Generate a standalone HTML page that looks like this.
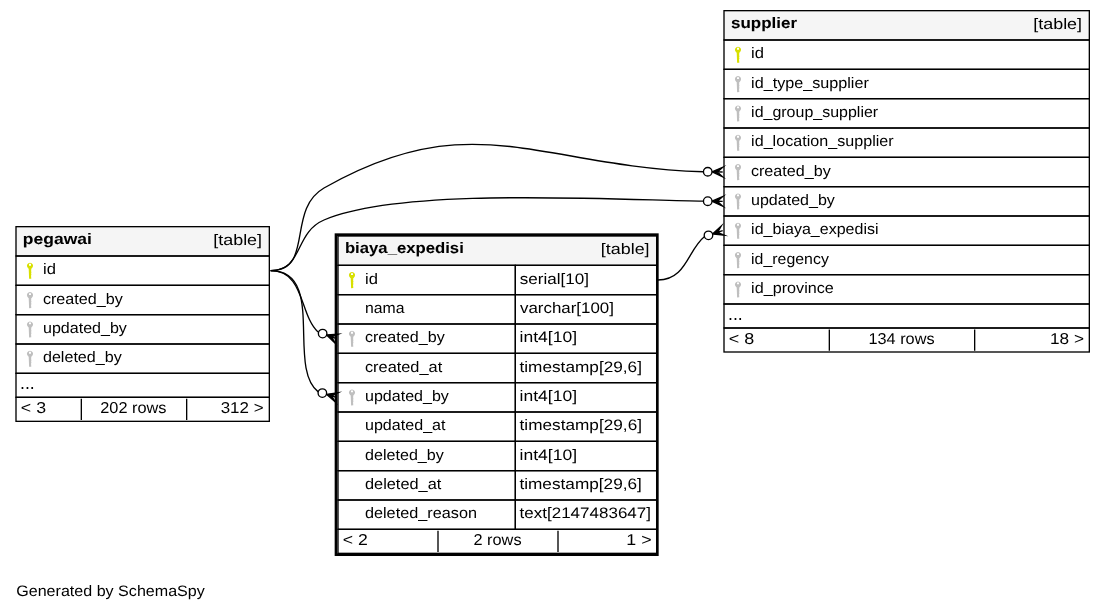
<!DOCTYPE html>
<html lang="en">
<head>
<meta charset="utf-8">
<title>biaya_expedisi - one degree relationships</title>
<style>
html,body{margin:0;padding:0;background:#ffffff;}
body{width:1105px;height:611px;overflow:hidden;}
svg{display:block;will-change:transform;}
svg text{font-family:"Liberation Sans",sans-serif;font-size:15.17px;fill:#000000;white-space:pre;}
svg text.b{font-weight:bold;stroke:#000000;stroke-width:0.06px;}
svg line,svg rect.o{stroke:#000000;fill:none;}
svg .e{fill:none;stroke:#000000;stroke-width:1.333;}
svg .dot{fill:#ffffff;stroke:#000000;stroke-width:1.333;}
svg .crow{fill:#000000;stroke:#000000;stroke-width:1.333;stroke-linejoin:miter;stroke-miterlimit:10;}
</style>
</head>
<body>
<svg width="1105" height="611" viewBox="0 0 1105 611">
<rect x="0" y="0" width="1105" height="611" fill="#ffffff"/>
<g id="pegawai">
<rect x="16" y="226.67" width="253.33" height="194.67" fill="#ffffff"/>
<rect x="16" y="226.67" width="253.33" height="29.33" fill="#f5f5f5"/>
<g fill="#d8e000">
<path fill-rule="evenodd" d="M30 262.72a3.05 3.05 0 1 1 -0.01 0zM29 263.87h2v1.8h-2z"/>
<path d="M28.65 267.77L31.35 267.77L31.15 271.37L31.45 272.17L31.1 273.37L31.4 274.57L31.05 275.77L31.3 278.67L29.1 278.87L28.9 273.77z"/>
</g>
<g fill="#bfbfbf">
<path fill-rule="evenodd" d="M30 292.05a3.05 3.05 0 1 1 -0.01 0zM29 293.2h2v1.8h-2z"/>
<path d="M28.65 297.1L31.35 297.1L31.15 300.7L31.45 301.5L31.1 302.7L31.4 303.9L31.05 305.1L31.3 308L29.1 308.2L28.9 303.1z"/>
</g>
<g fill="#bfbfbf">
<path fill-rule="evenodd" d="M30 321.38a3.05 3.05 0 1 1 -0.01 0zM29 322.53h2v1.8h-2z"/>
<path d="M28.65 326.43L31.35 326.43L31.15 330.03L31.45 330.83L31.1 332.03L31.4 333.23L31.05 334.43L31.3 337.33L29.1 337.53L28.9 332.43z"/>
</g>
<g fill="#bfbfbf">
<path fill-rule="evenodd" d="M30 350.72a3.05 3.05 0 1 1 -0.01 0zM29 351.87h2v1.8h-2z"/>
<path d="M28.65 355.77L31.35 355.77L31.15 359.37L31.45 360.17L31.1 361.37L31.4 362.57L31.05 363.77L31.3 366.67L29.1 366.87L28.9 361.77z"/>
</g>
<rect class="o" x="16" y="226.67" width="253.33" height="29.33" stroke-width="1.33"/>
<rect class="o" x="16" y="256" width="253.33" height="29.33" stroke-width="1.33"/>
<rect class="o" x="16" y="285.33" width="253.33" height="29.33" stroke-width="1.33"/>
<rect class="o" x="16" y="314.67" width="253.33" height="29.33" stroke-width="1.33"/>
<rect class="o" x="16" y="344" width="253.33" height="29.33" stroke-width="1.33"/>
<rect class="o" x="16" y="373.33" width="253.33" height="24" stroke-width="1.33"/>
<rect class="o" x="16" y="397.33" width="253.33" height="24" stroke-width="1.33"/>
<line x1="81.33" y1="398.83" x2="81.33" y2="420" stroke-width="1.33"/>
<line x1="186.67" y1="398.83" x2="186.67" y2="420" stroke-width="1.33"/>
</g>
<g id="supplier">
<rect x="724" y="10.67" width="365.33" height="341.33" fill="#ffffff"/>
<rect x="724" y="10.67" width="365.33" height="29.33" fill="#f5f5f5"/>
<g fill="#d8e000">
<path fill-rule="evenodd" d="M738 46.72a3.05 3.05 0 1 1 -0.01 0zM737 47.87h2v1.8h-2z"/>
<path d="M736.65 51.77L739.35 51.77L739.15 55.37L739.45 56.17L739.1 57.37L739.4 58.57L739.05 59.77L739.3 62.67L737.1 62.87L736.9 57.77z"/>
</g>
<g fill="#bfbfbf">
<path fill-rule="evenodd" d="M738 76.05a3.05 3.05 0 1 1 -0.01 0zM737 77.2h2v1.8h-2z"/>
<path d="M736.65 81.1L739.35 81.1L739.15 84.7L739.45 85.5L739.1 86.7L739.4 87.9L739.05 89.1L739.3 92L737.1 92.2L736.9 87.1z"/>
</g>
<g fill="#bfbfbf">
<path fill-rule="evenodd" d="M738 105.38a3.05 3.05 0 1 1 -0.01 0zM737 106.53h2v1.8h-2z"/>
<path d="M736.65 110.43L739.35 110.43L739.15 114.03L739.45 114.83L739.1 116.03L739.4 117.23L739.05 118.43L739.3 121.33L737.1 121.53L736.9 116.43z"/>
</g>
<g fill="#bfbfbf">
<path fill-rule="evenodd" d="M738 134.72a3.05 3.05 0 1 1 -0.01 0zM737 135.87h2v1.8h-2z"/>
<path d="M736.65 139.77L739.35 139.77L739.15 143.37L739.45 144.17L739.1 145.37L739.4 146.57L739.05 147.77L739.3 150.67L737.1 150.87L736.9 145.77z"/>
</g>
<g fill="#bfbfbf">
<path fill-rule="evenodd" d="M738 164.05a3.05 3.05 0 1 1 -0.01 0zM737 165.2h2v1.8h-2z"/>
<path d="M736.65 169.1L739.35 169.1L739.15 172.7L739.45 173.5L739.1 174.7L739.4 175.9L739.05 177.1L739.3 180L737.1 180.2L736.9 175.1z"/>
</g>
<g fill="#bfbfbf">
<path fill-rule="evenodd" d="M738 193.38a3.05 3.05 0 1 1 -0.01 0zM737 194.53h2v1.8h-2z"/>
<path d="M736.65 198.43L739.35 198.43L739.15 202.03L739.45 202.83L739.1 204.03L739.4 205.23L739.05 206.43L739.3 209.33L737.1 209.53L736.9 204.43z"/>
</g>
<g fill="#bfbfbf">
<path fill-rule="evenodd" d="M738 222.72a3.05 3.05 0 1 1 -0.01 0zM737 223.87h2v1.8h-2z"/>
<path d="M736.65 227.77L739.35 227.77L739.15 231.37L739.45 232.17L739.1 233.37L739.4 234.57L739.05 235.77L739.3 238.67L737.1 238.87L736.9 233.77z"/>
</g>
<g fill="#bfbfbf">
<path fill-rule="evenodd" d="M738 252.05a3.05 3.05 0 1 1 -0.01 0zM737 253.2h2v1.8h-2z"/>
<path d="M736.65 257.1L739.35 257.1L739.15 260.7L739.45 261.5L739.1 262.7L739.4 263.9L739.05 265.1L739.3 268L737.1 268.2L736.9 263.1z"/>
</g>
<g fill="#bfbfbf">
<path fill-rule="evenodd" d="M738 281.38a3.05 3.05 0 1 1 -0.01 0zM737 282.53h2v1.8h-2z"/>
<path d="M736.65 286.43L739.35 286.43L739.15 290.03L739.45 290.83L739.1 292.03L739.4 293.23L739.05 294.43L739.3 297.33L737.1 297.53L736.9 292.43z"/>
</g>
<rect class="o" x="724" y="10.67" width="365.33" height="29.33" stroke-width="1.33"/>
<rect class="o" x="724" y="40" width="365.33" height="29.33" stroke-width="1.33"/>
<rect class="o" x="724" y="69.33" width="365.33" height="29.33" stroke-width="1.33"/>
<rect class="o" x="724" y="98.67" width="365.33" height="29.33" stroke-width="1.33"/>
<rect class="o" x="724" y="128" width="365.33" height="29.33" stroke-width="1.33"/>
<rect class="o" x="724" y="157.33" width="365.33" height="29.33" stroke-width="1.33"/>
<rect class="o" x="724" y="186.67" width="365.33" height="29.33" stroke-width="1.33"/>
<rect class="o" x="724" y="216" width="365.33" height="29.33" stroke-width="1.33"/>
<rect class="o" x="724" y="245.33" width="365.33" height="29.33" stroke-width="1.33"/>
<rect class="o" x="724" y="274.67" width="365.33" height="29.33" stroke-width="1.33"/>
<rect class="o" x="724" y="304" width="365.33" height="24" stroke-width="1.33"/>
<rect class="o" x="724" y="328" width="365.33" height="24" stroke-width="1.33"/>
<line x1="829.33" y1="329.5" x2="829.33" y2="350.67" stroke-width="1.33"/>
<line x1="974.67" y1="329.5" x2="974.67" y2="350.67" stroke-width="1.33"/>
</g>
<g id="biaya_expedisi">
<rect x="334.67" y="233.33" width="324" height="322.67" fill="#ffffff"/>
<rect x="338" y="236" width="318.67" height="29.33" fill="#f5f5f5"/>
<g fill="#d8e000">
<path fill-rule="evenodd" d="M352 272.05a3.05 3.05 0 1 1 -0.01 0zM351 273.2h2v1.8h-2z"/>
<path d="M350.65 277.1L353.35 277.1L353.15 280.7L353.45 281.5L353.1 282.7L353.4 283.9L353.05 285.1L353.3 288L351.1 288.2L350.9 283.1z"/>
</g>
<g fill="#bfbfbf">
<path fill-rule="evenodd" d="M352 330.72a3.05 3.05 0 1 1 -0.01 0zM351 331.87h2v1.8h-2z"/>
<path d="M350.65 335.77L353.35 335.77L353.15 339.37L353.45 340.17L353.1 341.37L353.4 342.57L353.05 343.77L353.3 346.67L351.1 346.87L350.9 341.77z"/>
</g>
<g fill="#bfbfbf">
<path fill-rule="evenodd" d="M352 389.38a3.05 3.05 0 1 1 -0.01 0zM351 390.53h2v1.8h-2z"/>
<path d="M350.65 394.43L353.35 394.43L353.15 398.03L353.45 398.83L353.1 400.03L353.4 401.23L353.05 402.43L353.3 405.33L351.1 405.53L350.9 400.43z"/>
</g>
<rect class="o" x="338" y="236" width="318.67" height="29.33" stroke-width="1.33"/>
<rect class="o" x="338" y="265.33" width="177.33" height="29.33" stroke-width="1.33"/>
<rect class="o" x="515.33" y="265.33" width="141.33" height="29.33" stroke-width="1.33"/>
<rect class="o" x="338" y="294.67" width="177.33" height="29.33" stroke-width="1.33"/>
<rect class="o" x="515.33" y="294.67" width="141.33" height="29.33" stroke-width="1.33"/>
<rect class="o" x="338" y="324" width="177.33" height="29.33" stroke-width="1.33"/>
<rect class="o" x="515.33" y="324" width="141.33" height="29.33" stroke-width="1.33"/>
<rect class="o" x="338" y="353.33" width="177.33" height="29.33" stroke-width="1.33"/>
<rect class="o" x="515.33" y="353.33" width="141.33" height="29.33" stroke-width="1.33"/>
<rect class="o" x="338" y="382.67" width="177.33" height="29.33" stroke-width="1.33"/>
<rect class="o" x="515.33" y="382.67" width="141.33" height="29.33" stroke-width="1.33"/>
<rect class="o" x="338" y="412" width="177.33" height="29.33" stroke-width="1.33"/>
<rect class="o" x="515.33" y="412" width="141.33" height="29.33" stroke-width="1.33"/>
<rect class="o" x="338" y="441.33" width="177.33" height="29.33" stroke-width="1.33"/>
<rect class="o" x="515.33" y="441.33" width="141.33" height="29.33" stroke-width="1.33"/>
<rect class="o" x="338" y="470.67" width="177.33" height="29.33" stroke-width="1.33"/>
<rect class="o" x="515.33" y="470.67" width="141.33" height="29.33" stroke-width="1.33"/>
<rect class="o" x="338" y="500" width="177.33" height="29.33" stroke-width="1.33"/>
<rect class="o" x="515.33" y="500" width="141.33" height="29.33" stroke-width="1.33"/>
<rect class="o" x="338" y="529.33" width="318.67" height="24" stroke-width="1.33"/>
<line x1="438" y1="530.83" x2="438" y2="552" stroke-width="1.33"/>
<line x1="558" y1="530.83" x2="558" y2="552" stroke-width="1.33"/>
<rect class="o" x="336" y="234.67" width="321.33" height="320" stroke-width="2.67"/>
</g>
<g id="labels">
<text transform="matrix(1.0613 0 0.001 1 16.19 595.73)">Generated by SchemaSpy</text>
<text class="b" transform="matrix(1.1017 0 0.001 1 344.91 253.07)">biaya_expedisi</text>
<text transform="matrix(1.1822 0 0.001 1 600.76 254.4)">[table]</text>
<text transform="matrix(1.0963 0 0.001 1 365.04 283.73)">id</text>
<text transform="matrix(1.1263 0 0.001 1 519.7 283.73)">serial[10]</text>
<text transform="matrix(1.0414 0 0.001 1 365.06 313.07)">nama</text>
<text transform="matrix(1.1156 0 0.001 1 519.95 313.07)">varchar[100]</text>
<text transform="matrix(1.0645 0 0.001 1 364.91 342.4)">created_by</text>
<text transform="matrix(1.1574 0 0.001 1 519.48 342.4)">int4[10]</text>
<text transform="matrix(1.0799 0 0.001 1 364.9 371.73)">created_at</text>
<text transform="matrix(1.1357 0 0.001 1 519.48 371.73)">timestamp[29,6]</text>
<text transform="matrix(1.0591 0 0.001 1 364.99 401.07)">updated_by</text>
<text transform="matrix(1.1574 0 0.001 1 519.48 401.07)">int4[10]</text>
<text transform="matrix(1.0620 0 0.001 1 364.98 430.4)">updated_at</text>
<text transform="matrix(1.1348 0 0.001 1 519.57 430.4)">timestamp[29,6]</text>
<text transform="matrix(1.0637 0 0.001 1 364.94 459.73)">deleted_by</text>
<text transform="matrix(1.1574 0 0.001 1 519.48 459.73)">int4[10]</text>
<text transform="matrix(1.0786 0 0.001 1 364.96 489.07)">deleted_at</text>
<text transform="matrix(1.1365 0 0.001 1 519.39 489.07)">timestamp[29,6]</text>
<text transform="matrix(1.0719 0 0.001 1 364.93 518.4)">deleted_reason</text>
<text transform="matrix(1.1212 0 0.001 1 519.57 518.4)">text[2147483647]</text>
<text transform="matrix(1.1640 0 0.001 1.04 342.85 545.07)">&lt; 2</text>
<text transform="matrix(1.0768 0 0.001 1.04 473.48 545.07)">2 rows</text>
<text transform="matrix(1.1782 0 0.001 1.04 626.31 545.07)">1 &gt;</text>
<text class="b" transform="matrix(1.1531 0 0.001 1 22.86 243.73)">pegawai</text>
<text transform="matrix(1.1820 0 0.001 1 213.25 245.07)">[table]</text>
<text transform="matrix(1.0963 0 0.001 1 43.04 274.4)">id</text>
<text transform="matrix(1.0657 0 0.001 1 42.91 303.73)">created_by</text>
<text transform="matrix(1.0591 0 0.001 1 42.99 333.07)">updated_by</text>
<text transform="matrix(1.0626 0 0.001 1 42.93 362.4)">deleted_by</text>
<text transform="matrix(1.1697 0 0.001 1.2 19.99 389.07)">...</text>
<text transform="matrix(1.1719 0 0.001 1.04 20.84 413.07)">&lt; 3</text>
<text transform="matrix(1.0773 0 0.001 1.04 100.27 413.07)">202 rows</text>
<text transform="matrix(1.1177 0 0.001 1.04 220.7 413.07)">312 &gt;</text>
<text class="b" transform="matrix(1.1194 0 0.001 1 730.96 27.73)">supplier</text>
<text transform="matrix(1.1820 0 0.001 1 1033.25 29.07)">[table]</text>
<text transform="matrix(1.0963 0 0.001 1 751.04 58.4)">id</text>
<text transform="matrix(1.0671 0 0.001 1 751.07 87.73)">id_type_supplier</text>
<text transform="matrix(1.0539 0 0.001 1 751.08 117.07)">id_group_supplier</text>
<text transform="matrix(1.0638 0 0.001 1 751.07 146.4)">id_location_supplier</text>
<text transform="matrix(1.0657 0 0.001 1 750.91 175.73)">created_by</text>
<text transform="matrix(1.0591 0 0.001 1 750.99 205.07)">updated_by</text>
<text transform="matrix(1.0573 0 0.001 1 751.08 234.4)">id_biaya_expedisi</text>
<text transform="matrix(1.0485 0 0.001 1 751.09 263.73)">id_regency</text>
<text transform="matrix(1.0676 0 0.001 1 751.07 293.07)">id_province</text>
<text transform="matrix(1.1697 0 0.001 1.2 727.99 319.73)">...</text>
<text transform="matrix(1.1858 0 0.001 1.04 728.73 343.73)">&lt; 8</text>
<text transform="matrix(1.0733 0 0.001 1.04 868.52 343.73)">134 rows</text>
<text transform="matrix(1.1365 0 0.001 1.04 1050.02 343.73)">18 &gt;</text>
</g>
<g id="edges">
<path class="e" d="M318 331.89C299.37 314.69 304.56 270.67 270.67 270.67"/>
<polygon class="crow" points="326.64,335.03 338.31,334.16 331.65,336.85 336.67,338.67 336.67,338.67 336.67,338.67 331.65,336.85 335.03,343.17 326.64,335.03 326.64,335.03"/>
<circle class="dot" cx="322.63" cy="333.57" r="4.27"/>
<path class="e" d="M318.21 391.89C286.48 367.64 326.21 270.67 270.67 270.67"/>
<polygon class="crow" points="326.44,394.32 338.03,392.73 331.55,395.83 336.67,397.33 336.67,397.33 336.67,397.33 331.55,395.83 335.31,401.93 326.44,394.32 326.44,394.32"/>
<circle class="dot" cx="322.35" cy="393.11" r="4.27"/>
<path class="e" d="M704.31 236.72C687.76 249.89 686.24 280 658 280"/>
<polygon class="crow" points="712.53,234 721.16,226.11 717.6,232.33 722.67,230.67 722.67,230.67 722.67,230.67 717.6,232.33 724.17,235.23 712.53,234 712.53,234"/>
<circle class="dot" cx="708.48" cy="235.35" r="4.27"/>
<path class="e" d="M703.37 171.72C540.23 166.88 472.27 103.31 324 188 286.04 209.68 314.39 270.67 270.67 270.67"/>
<polygon class="crow" points="712,171.84 722.73,167.2 717.33,171.92 722.67,172 722.67,172 722.67,172 717.33,171.92 722.6,176.8 712,171.84 712,171.84"/>
<circle class="dot" cx="707.73" cy="171.77" r="4.27"/>
<path class="e" d="M703.24 201.13C604.29 199.41 400.16 187.51 324 220 293.93 232.83 303.36 270.67 270.67 270.67"/>
<polygon class="crow" points="712,201.23 722.72,196.53 717.33,201.28 722.67,201.33 722.67,201.33 722.67,201.33 717.33,201.28 722.61,206.13 712,201.23 712,201.23"/>
<circle class="dot" cx="707.73" cy="201.19" r="4.27"/>
</g>
</svg>
</body>
</html>
